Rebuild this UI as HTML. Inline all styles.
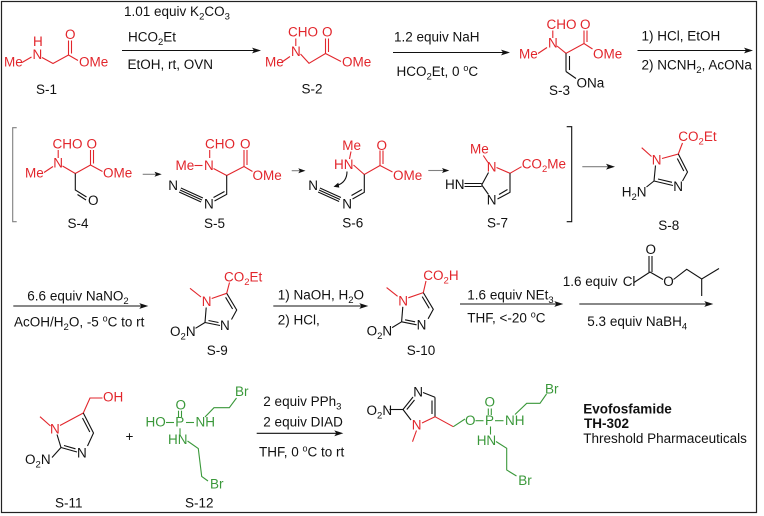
<!DOCTYPE html>
<html><head><meta charset="utf-8">
<style>
html,body{margin:0;padding:0;background:#fff;}
svg{display:block;}
text{font-family:"Liberation Sans",Arial,sans-serif;font-size:13.5px;}
.s{font-size:9.5px;}
.u{font-size:9px;}
.b{font-weight:bold;}
.r{fill:#e2262c;} .g{fill:#3a983a;} .k{fill:#111;}
line,polyline,path{fill:none;stroke-width:1.1;}
.br{stroke:#e2262c;} .bg{stroke:#3a983a;} .bk{stroke:#111;} .gy{stroke:#808080;}
polygon{stroke:none;}
</style></head><body>
<svg width="764" height="516" viewBox="0 0 764 516" xmlns="http://www.w3.org/2000/svg">
<rect x="0" y="0" width="764" height="516" fill="#fff"/>
<rect x="1.5" y="1.5" width="755" height="511" fill="none" stroke="#222" stroke-width="1.2"/>

<!-- ============ ROW 1 ============ -->
<!-- S-1 -->
<text class="r" x="4" y="66.5">Me</text>
<text class="r" x="33" y="46">H</text>
<text class="r" x="32.5" y="59">N</text>
<line class="br" x1="22" y1="62.5" x2="31.5" y2="57"/>
<polyline class="br" points="42,57.5 53,63.5 68.5,55 78,60.5"/>
<line class="br" x1="68.5" y1="55" x2="68.5" y2="40.5"/>
<line class="br" x1="71.5" y1="53.5" x2="71.5" y2="40.5"/>
<text class="r" x="65" y="39">O</text>
<text class="r" x="79" y="66.5">OMe</text>
<text class="k" x="36" y="94">S-1</text>

<!-- arrow 1 -->
<line class="bk" x1="122" y1="50.5" x2="255" y2="50.5"/>
<polygon fill="#111" points="261,50.5 252,47.6 254,50.5 252,53.4"/>
<text class="k" x="124" y="16">1.01 equiv K<tspan class="s" dy="3.5">2</tspan><tspan dy="-3.5">CO</tspan><tspan class="s" dy="3.5">3</tspan></text>
<text class="k" x="128" y="41.5">HCO<tspan class="s" dy="3.5">2</tspan><tspan dy="-3.5">Et</tspan></text>
<text class="k" x="127.5" y="69">EtOH, rt, OVN</text>

<!-- S-2 -->
<text class="r" x="288" y="36.7">CHO</text>
<text class="r" x="322" y="36.7">O</text>
<text class="r" x="291" y="56">N</text>
<text class="r" x="265" y="66.7">Me</text>
<text class="r" x="342" y="66.7">OMe</text>
<line class="br" x1="282" y1="62" x2="290" y2="56.5"/>
<line class="br" x1="295.8" y1="46" x2="295.8" y2="38.5"/>
<polyline class="br" points="300.5,54 309,63.3 325.5,53.5 341,61.5"/>
<line class="br" x1="325.5" y1="53.5" x2="325.5" y2="38.5"/>
<line class="br" x1="328.5" y1="52" x2="328.5" y2="38.5"/>
<text class="k" x="301.5" y="93.5">S-2</text>

<!-- arrow 2 -->
<line class="bk" x1="393" y1="52.5" x2="504" y2="52.5"/>
<polygon fill="#111" points="510,52.5 501,49.6 503,52.5 501,55.4"/>
<text class="k" x="394" y="41.5">1.2 equiv NaH</text>
<text class="k" x="396.5" y="76">HCO<tspan class="s" dy="3.5">2</tspan><tspan dy="-3.5">Et, 0 </tspan><tspan class="u" dy="-5">o</tspan><tspan dy="5">C</tspan></text>

<!-- S-3 -->
<text class="r" x="546.5" y="29">CHO</text>
<text class="r" x="580" y="29">O</text>
<text class="r" x="548" y="47.7">N</text>
<text class="r" x="519" y="58.3">Me</text>
<text class="r" x="593" y="58.3">OMe</text>
<line class="br" x1="538" y1="53.5" x2="547" y2="47.5"/>
<line class="br" x1="552.8" y1="38" x2="552.8" y2="30.5"/>
<polyline class="br" points="557,46 566,53.3 584,43.5 592.5,49"/>
<line class="br" x1="584" y1="43.5" x2="584" y2="30.5"/>
<line class="br" x1="587" y1="42" x2="587" y2="30.5"/>
<line class="bk" x1="566" y1="53.3" x2="566" y2="71.5"/>
<line class="bk" x1="569.5" y1="56" x2="569.5" y2="70"/>
<line class="bk" x1="566" y1="71.5" x2="576" y2="78.5"/>
<text class="k" x="576.5" y="87.3">ONa</text>
<text class="k" x="549" y="95">S-3</text>

<!-- arrow 3 -->
<line class="bk" x1="637.5" y1="50.5" x2="747" y2="50.5"/>
<polygon fill="#111" points="753,50.5 744,47.6 746,50.5 744,53.4"/>
<text class="k" x="641.5" y="40.7">1) HCl, EtOH</text>
<text class="k" x="641.5" y="69.3">2) NCNH<tspan class="s" dy="3.5">2</tspan><tspan dy="-3.5">, AcONa</tspan></text>

<!-- ============ ROW 2 ============ -->
<path class="gy" d="M16.7,127.7 H12.7 V221.7 H16.7"/>

<!-- S-4 -->
<text class="r" x="52.5" y="148.5">CHO</text>
<text class="r" x="86.5" y="148.5">O</text>
<text class="r" x="53.3" y="167.7">N</text>
<text class="r" x="25" y="177.7">Me</text>
<text class="r" x="103" y="177.7">OMe</text>
<line class="br" x1="44" y1="172.5" x2="53" y2="166.5"/>
<line class="br" x1="58.2" y1="158" x2="58.2" y2="150"/>
<polyline class="br" points="62.5,166 75.3,173.5 90.5,165 102.5,171.5"/>
<line class="br" x1="90.5" y1="165" x2="90.5" y2="150"/>
<line class="br" x1="93.5" y1="163.5" x2="93.5" y2="150"/>
<polyline class="bk" points="75.3,173.5 75.3,190 86.5,197"/>
<line class="bk" x1="77.5" y1="194.5" x2="86" y2="200"/>
<text class="k" x="88" y="205">O</text>
<text class="k" x="67.5" y="228">S-4</text>

<line class="gy" x1="142.7" y1="174.3" x2="157" y2="174.3"/>
<polygon fill="#111" points="161.7,174.3 154.5,171.8 156,174.3 154.5,176.8"/>

<!-- S-5 -->
<text class="r" x="205" y="148.5">CHO</text>
<text class="r" x="240" y="148.5">O</text>
<text class="r" x="175.5" y="170">Me</text>
<text class="r" x="204" y="170">N</text>
<line class="br" x1="194.5" y1="165.5" x2="202.5" y2="165.5"/>
<line class="br" x1="209.7" y1="158" x2="209.7" y2="150"/>
<polyline class="br" points="213.5,168.5 226.7,175.5 244,166.5 252.5,171.5"/>
<line class="br" x1="244" y1="166.5" x2="244" y2="150"/>
<line class="br" x1="247" y1="165" x2="247" y2="150"/>
<text class="r" x="252.5" y="180">OMe</text>
<polyline class="bk" points="226.7,175.5 226.7,194.3 214.5,201"/>
<line class="bk" x1="224.5" y1="191.5" x2="213.5" y2="197.5"/>
<text class="k" x="204" y="208.3">N</text>
<line class="bk" x1="202" y1="200" x2="180" y2="190"/>
<line class="bk" x1="202.9" y1="198" x2="180.9" y2="188"/>
<line class="bk" x1="201.1" y1="202" x2="179.1" y2="192"/>
<text class="k" x="168.3" y="190">N</text>
<text class="k" x="204" y="228">S-5</text>

<line class="gy" x1="291.7" y1="170.7" x2="300.5" y2="170.7"/>
<polygon fill="#111" points="305.5,170.7 298.3,168.2 299.8,170.7 298.3,173.2"/>

<!-- S-6 -->
<text class="r" x="342.3" y="150">Me</text>
<text class="r" x="334" y="169">HN</text>
<line class="br" x1="351" y1="151.5" x2="349.5" y2="159"/>
<polyline class="br" points="353.5,165 364.3,174.5 380,165.5 392.5,172"/>
<line class="br" x1="380" y1="165.5" x2="380" y2="150.5"/>
<line class="br" x1="383" y1="164" x2="383" y2="150.5"/>
<text class="r" x="376.5" y="150">O</text>
<text class="r" x="393" y="180">OMe</text>
<polyline class="bk" points="364.3,174.5 364.3,192.3 352.5,199"/>
<line class="bk" x1="362" y1="189.5" x2="351.5" y2="195.5"/>
<text class="k" x="342.3" y="208.3">N</text>
<line class="bk" x1="340" y1="199.5" x2="319" y2="190"/>
<line class="bk" x1="340.9" y1="197.5" x2="319.9" y2="188"/>
<line class="bk" x1="339.1" y1="201.5" x2="318.1" y2="192"/>
<text class="k" x="308.3" y="190">N</text>
<path class="bk" d="M347,171.5 C347,179 343,183.5 337,185.5"/>
<polygon fill="#111" points="333.5,186.8 338.3,182.6 339.3,187.6"/>
<text class="k" x="342.3" y="227.7">S-6</text>

<line class="gy" x1="428.3" y1="170.5" x2="444" y2="170.5"/>
<polygon fill="#111" points="449.3,170.5 442,168 443.5,170.5 442,173"/>

<!-- S-7 -->
<text class="r" x="470" y="153.3">Me</text>
<text class="r" x="486.7" y="171.7">N</text>
<line class="br" x1="483.3" y1="155.5" x2="488" y2="162.5"/>
<polyline class="br" points="496.5,167.5 510,173.3 521.5,166.7"/>
<text class="r" x="521.7" y="168.3">CO<tspan class="s" dy="3.5">2</tspan><tspan dy="-3.5">Me</tspan></text>
<polyline class="bk" points="510,173.3 510,192.3 497.5,199"/>
<line class="bk" x1="507.5" y1="189.5" x2="499" y2="194.5"/>
<text class="k" x="486.7" y="204.3">N</text>
<polyline class="bk" points="488.5,194.5 481.7,185 488.5,172.5"/>
<line class="bk" x1="481.7" y1="183.5" x2="464.5" y2="183.5"/>
<line class="bk" x1="481.7" y1="186.5" x2="464.5" y2="186.5"/>
<text class="k" x="445" y="189">HN</text>
<text class="k" x="487" y="227.7">S-7</text>

<path class="bk" d="M566.7,126.7 H571.7 V221.7 H566.7"/>

<line class="gy" x1="582.3" y1="166.7" x2="609" y2="166.7"/>
<polygon fill="#111" points="615,166.7 606,163.8 608,166.7 606,169.6"/>

<!-- S-8 -->
<text class="r" x="678.3" y="141">CO<tspan class="s" dy="3.5">2</tspan><tspan dy="-3.5">Et</tspan></text>
<text class="r" x="651.7" y="164.3">N</text>
<line class="br" x1="651.5" y1="156.5" x2="641.7" y2="147.7"/>
<polyline class="br" points="662,158.5 678.3,154 682.5,143"/>
<polyline class="bk" points="678.3,154 687.5,172 682.5,181"/>
<line class="bk" x1="677.3" y1="158.5" x2="683.8" y2="171"/>
<text class="k" x="673.3" y="191">N</text>
<line class="bk" x1="673" y1="185.5" x2="654" y2="181"/>
<line class="bk" x1="672" y1="182.3" x2="658" y2="179"/>
<line class="bk" x1="654" y1="181" x2="655.5" y2="165.5"/>
<line class="bk" x1="654" y1="181" x2="646.5" y2="187"/>
<text class="k" x="621.7" y="196.7">H<tspan class="s" dy="3.5">2</tspan><tspan dy="-3.5">N</tspan></text>
<text class="k" x="658.3" y="230">S-8</text>

<!-- ============ ROW 3 ============ -->
<line class="bk" x1="13.3" y1="306" x2="142.3" y2="306"/>
<polygon fill="#111" points="148.3,306 139.3,303.1 141.3,306 139.3,308.9"/>
<text class="k" x="27.3" y="300.7">6.6 equiv NaNO<tspan class="s" dy="3.5">2</tspan></text>
<text class="k" x="14" y="326.7">AcOH/H<tspan class="s" dy="3.5">2</tspan><tspan dy="-3.5">O, -5 </tspan><tspan class="u" dy="-5">o</tspan><tspan dy="5">C to rt</tspan></text>

<!-- S-9 -->
<g>
<text class="r" x="201.7" y="306">N</text>
<line class="br" x1="201" y1="297" x2="190" y2="288.3"/>
<line class="br" x1="211.7" y1="298.5" x2="226.7" y2="293.3"/>
<polyline class="bk" points="226.7,293.3 236.7,310 231.5,319.5"/>
<line class="bk" x1="225.6" y1="297.3" x2="232.6" y2="309"/>
<text class="k" x="220" y="330">N</text>
<line class="bk" x1="220" y1="325.5" x2="205" y2="322.5"/>
<line class="bk" x1="218.5" y1="322.5" x2="208.5" y2="320.5"/>
<line class="bk" x1="205" y1="322.5" x2="206.2" y2="307.5"/>
<line class="bk" x1="205" y1="322.5" x2="195.5" y2="328.3"/>
<text class="k" x="170" y="336">O<tspan class="s" dy="3.5">2</tspan><tspan dy="-3.5">N</tspan></text>
</g>
<line class="br" x1="226.7" y1="293.3" x2="229.5" y2="282.5"/>
<text class="r" x="224" y="281.7">CO<tspan class="s" dy="3.5">2</tspan><tspan dy="-3.5">Et</tspan></text>
<text class="k" x="206.7" y="355">S-9</text>

<line class="bk" x1="273.3" y1="306" x2="362.3" y2="306"/>
<polygon fill="#111" points="368.3,306 359.3,303.1 361.3,306 359.3,308.9"/>
<text class="k" x="277.7" y="299.3">1) NaOH, H<tspan class="s" dy="3.5">2</tspan><tspan dy="-3.5">O</tspan></text>
<text class="k" x="277.7" y="324.3">2) HCl,</text>

<!-- S-10 -->
<g transform="translate(196.6,-0.7)">
<text class="r" x="201.7" y="306">N</text>
<line class="br" x1="201" y1="297" x2="190" y2="288.3"/>
<line class="br" x1="211.7" y1="298.5" x2="226.7" y2="293.3"/>
<polyline class="bk" points="226.7,293.3 236.7,310 231.5,319.5"/>
<line class="bk" x1="225.6" y1="297.3" x2="232.6" y2="309"/>
<text class="k" x="220" y="330">N</text>
<line class="bk" x1="220" y1="325.5" x2="205" y2="322.5"/>
<line class="bk" x1="218.5" y1="322.5" x2="208.5" y2="320.5"/>
<line class="bk" x1="205" y1="322.5" x2="206.2" y2="307.5"/>
<line class="bk" x1="205" y1="322.5" x2="195.5" y2="328.3"/>
<text class="k" x="170" y="336">O<tspan class="s" dy="3.5">2</tspan><tspan dy="-3.5">N</tspan></text>
</g>
<line class="br" x1="423.3" y1="292.6" x2="426" y2="281"/>
<text class="r" x="423.3" y="280">CO<tspan class="s" dy="3.5">2</tspan><tspan dy="-3.5">H</tspan></text>
<text class="k" x="406.7" y="355">S-10</text>

<line class="bk" x1="460" y1="304" x2="557.3" y2="304"/>
<polygon fill="#111" points="563.3,304 554.3,301.1 556.3,304 554.3,306.9"/>
<text class="k" x="467.3" y="299.3">1.6 equiv NEt<tspan class="s" dy="3.5">3</tspan></text>
<text class="k" x="467.3" y="322.7">THF, &lt;-20 <tspan class="u" dy="-5">o</tspan><tspan dy="5">C</tspan></text>

<line class="bk" x1="579.3" y1="304" x2="707.3" y2="304"/>
<polygon fill="#111" points="713.3,304 704.3,301.1 706.3,304 704.3,306.9"/>
<text class="k" x="587.3" y="326">5.3 equiv NaBH<tspan class="s" dy="3.5">4</tspan></text>
<text class="k" x="562.7" y="286">1.6 equiv</text>
<text class="k" x="622.7" y="286">Cl</text>
<text class="k" x="645.5" y="254">O</text>
<text class="k" x="663.3" y="286">O</text>
<line class="bk" x1="634" y1="282.5" x2="650" y2="272"/>
<line class="bk" x1="649" y1="272" x2="649" y2="256"/>
<line class="bk" x1="652" y1="272" x2="652" y2="256"/>
<line class="bk" x1="650" y1="272" x2="663" y2="279.5"/>
<polyline class="bk" points="673.5,279.5 686.7,269.3 701.7,279 719,268.5"/>
<line class="bk" x1="701.7" y1="279" x2="701.7" y2="296"/>

<!-- ============ ROW 4 ============ -->
<!-- S-11 -->
<text class="r" x="103" y="401.7">OH</text>
<polyline class="br" points="102.5,398 90,398 83.3,413"/>
<text class="r" x="50" y="433.3">N</text>
<line class="br" x1="50.5" y1="426" x2="40" y2="416.7"/>
<line class="br" x1="60" y1="425.5" x2="83.3" y2="413"/>
<polyline class="bk" points="83.3,413 93.5,433 87.5,446"/>
<line class="bk" x1="82.5" y1="418" x2="89.8" y2="432"/>
<text class="k" x="77" y="457.3">N</text>
<line class="bk" x1="77" y1="452" x2="61" y2="447.5"/>
<line class="bk" x1="75.5" y1="448.8" x2="64" y2="445.5"/>
<line class="bk" x1="61" y1="447.5" x2="57" y2="434.5"/>
<line class="bk" x1="61" y1="447.5" x2="52" y2="457.5"/>
<text class="k" x="25" y="464">O<tspan class="s" dy="3.5">2</tspan><tspan dy="-3.5">N</tspan></text>
<text class="k" x="55" y="507.3">S-11</text>

<text class="k" x="125.5" y="441">+</text>

<!-- S-12 -->
<text class="g" x="175.5" y="409.3">O</text>
<line class="bg" x1="178.5" y1="410.7" x2="178.5" y2="417"/>
<line class="bg" x1="181.5" y1="410.7" x2="181.5" y2="417"/>
<text class="g" x="145.5" y="426.7">HO</text>
<line class="bg" x1="166" y1="422.5" x2="174" y2="422.5"/>
<text class="g" x="175.2" y="426.7">P</text>
<line class="bg" x1="186" y1="422.5" x2="194" y2="422.5"/>
<text class="g" x="195.5" y="426.7">NH</text>
<line class="bg" x1="180" y1="428.3" x2="180" y2="435"/>
<text class="g" x="168" y="444">HN</text>
<polyline class="bg" points="205,417 214,407.7 229.3,407.7 236.5,398"/>
<text class="g" x="235" y="396">Br</text>
<polyline class="bg" points="187.5,441 198.3,448.5 201.7,476.5 208,481"/>
<text class="g" x="210" y="488.3">Br</text>
<text class="k" x="185" y="507.3">S-12</text>

<line class="bk" x1="256.7" y1="433.3" x2="337.3" y2="433.3"/>
<polygon fill="#111" points="343.3,433.3 334.3,430.4 336.3,433.3 334.3,436.2"/>
<text class="k" x="263.3" y="406">2 equiv PPh<tspan class="s" dy="3.5">3</tspan></text>
<text class="k" x="263.3" y="426.5">2 equiv DIAD</text>
<text class="k" x="259" y="456.7">THF, 0 <tspan class="u" dy="-5">o</tspan><tspan dy="5">C to rt</tspan></text>

<!-- Final product -->
<text class="k" x="366.5" y="415">O<tspan class="s" dy="3.5">2</tspan><tspan dy="-3.5">N</tspan></text>
<line class="bk" x1="389.5" y1="409.5" x2="403" y2="409.5"/>
<line class="bk" x1="403" y1="409.5" x2="413" y2="397"/>
<line class="bk" x1="406.8" y1="409.5" x2="414.5" y2="400"/>
<text class="k" x="413.3" y="396.7">N</text>
<line class="bk" x1="423" y1="392.5" x2="435" y2="397.3"/>
<line class="bk" x1="435" y1="397.3" x2="435" y2="416.7"/>
<line class="bk" x1="432" y1="400.5" x2="432" y2="414"/>
<line class="br" x1="435" y1="416.7" x2="422" y2="423"/>
<text class="r" x="411.7" y="429.3">N</text>
<line class="bk" x1="403" y1="409.5" x2="411" y2="420"/>
<line class="br" x1="416.5" y1="430.5" x2="412.5" y2="441.7"/>
<line class="br" x1="435" y1="416.7" x2="453.3" y2="426.7"/>
<line class="bg" x1="453.3" y1="426.7" x2="465" y2="419"/>
<text class="g" x="465" y="425">O</text>
<line class="bg" x1="475.5" y1="420.7" x2="483.5" y2="420.7"/>
<text class="g" x="485" y="425">P</text>
<text class="g" x="484.5" y="406.7">O</text>
<line class="bg" x1="488.3" y1="408.5" x2="488.3" y2="415"/>
<line class="bg" x1="491.3" y1="408.5" x2="491.3" y2="415"/>
<line class="bg" x1="495" y1="420.7" x2="503.5" y2="420.7"/>
<text class="g" x="505" y="425">NH</text>
<line class="bg" x1="490.5" y1="426.5" x2="490.5" y2="434.5"/>
<text class="g" x="476.7" y="445">HN</text>
<polyline class="bg" points="515,414.5 526.7,403.3 540,403.3 546.5,394"/>
<text class="g" x="545" y="393.3">Br</text>
<polyline class="bg" points="496,441.5 506.7,448.3 506.7,470 516.5,476"/>
<text class="g" x="518.3" y="485">Br</text>

<text class="k b" x="583.3" y="413.3">Evofosfamide</text>
<text class="k b" x="584" y="428">TH-302</text>
<text class="k" x="583.3" y="443">Threshold Pharmaceuticals</text>
</svg>
</body></html>
